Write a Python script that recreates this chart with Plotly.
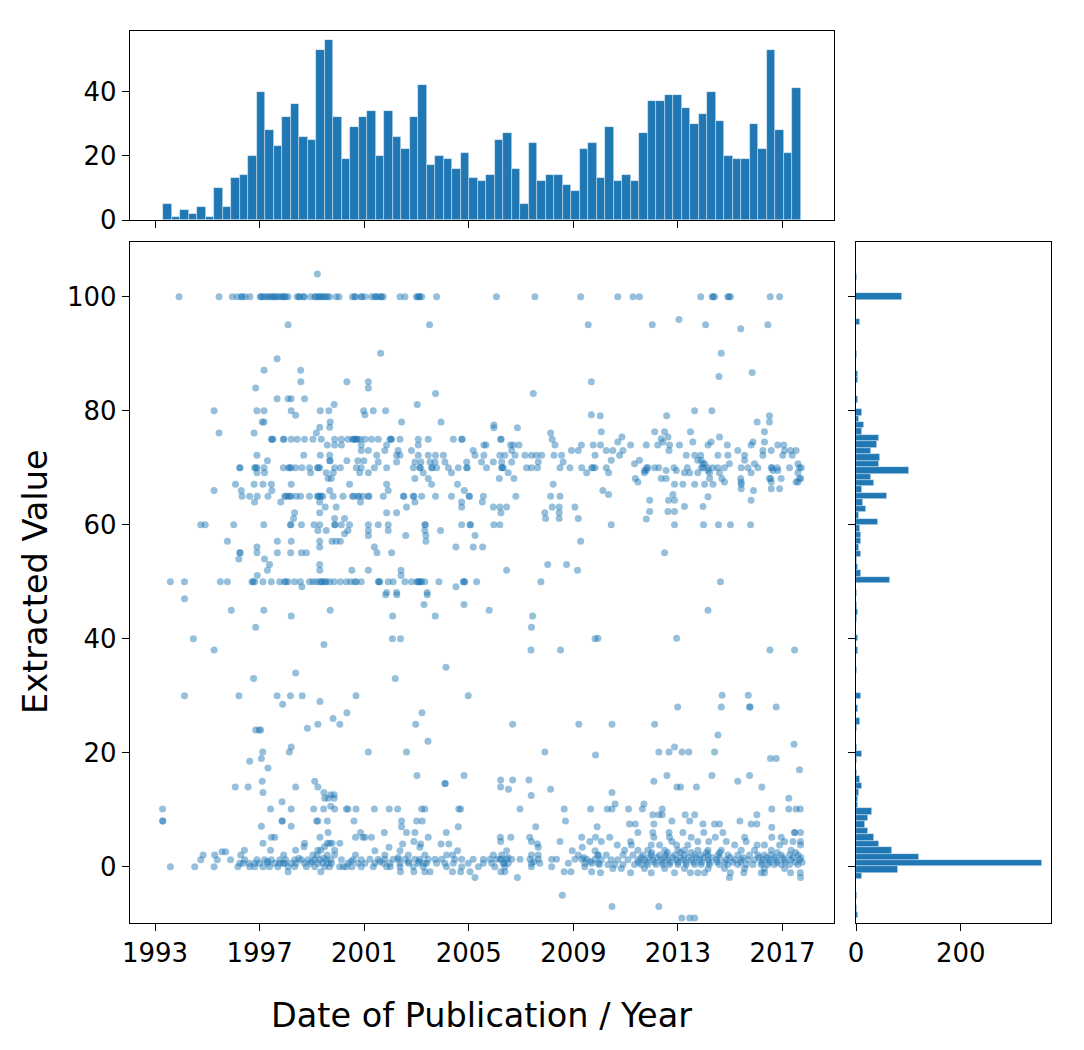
import plotly.graph_objects as go

# ---------------- data ----------------
tick_years = [1993, 1997, 2001, 2005, 2009, 2013, 2017]
value_ticks = [0, 20, 40, 60, 80, 100]
top_hist_ticks = [0, 20, 40]
right_hist_ticks = [0, 200]

# top marginal histogram (publication year), 75 bins
top_bin_start = 1993.32
top_bin_width = 0.3251
top_counts = [5, 1, 3, 2, 4, 1, 10, 4, 13, 14,
              20, 40, 28, 23, 32, 36, 26, 25, 53, 56,
              32, 19, 29, 32, 34, 20, 34, 26, 22, 32,
              42, 17, 20, 19, 16, 21, 13, 12, 14, 25,
              27, 16, 5, 24, 12, 14, 14, 11, 9, 22,
              24, 13, 29, 12, 14, 12, 27, 37, 37, 39,
              39, 35, 30, 33, 40, 31, 20, 19, 19, 30,
              22, 53, 28, 21, 41]

# right marginal histogram (extracted value), 100 bins
right_bin_start = -9.0
right_bin_width = 1.13
right_counts = [3, 2, 0, 1, 0, 0, 11, 81, 355, 120,
                69, 43, 34, 23, 18, 22, 30, 3, 4, 6,
                11, 8, 2, 0, 2, 11, 2, 0, 0, 2,
                8, 0, 4, 0, 9, 0, 0, 0, 1, 0,
                0, 4, 0, 4, 0, 0, 2, 4, 1, 0,
                2, 0, 65, 9, 3, 1, 10, 6, 10, 9,
                8, 42, 6, 19, 14, 59, 12, 34, 28, 102,
                43, 46, 28, 40, 44, 11, 15, 5, 11, 0,
                3, 0, 0, 3, 3, 0, 0, 2, 0, 0,
                0, 0, 8, 0, 0, 0, 87, 0, 0, 1]

# scatter points: (extracted value, [publication years])
pts_early_high = [
    (104.0, [1999.21]),
    (100.0, [1993.92, 1995.45, 1995.96, 1996.15, 1996.30, 1996.34, 1996.45, 1996.63, 1997.03, 1997.05,
             1997.13, 1997.20, 1997.30, 1997.35, 1997.45, 1997.50, 1997.58, 1997.60, 1997.70, 1997.77,
             1997.86, 1997.90, 1997.96, 1998.00, 1998.09, 1998.44, 1998.50, 1998.54, 1998.69, 1998.70,
             1998.95, 1999.11, 1999.15, 1999.23, 1999.30, 1999.32, 1999.42, 1999.45, 1999.53, 1999.60,
             1999.68, 1999.93, 2000.04, 2000.55, 2000.64, 2000.66, 2000.89, 2000.90]),
    (95.1, [1998.09]),
    (89.1, [1997.67]),
    (87.1, [1997.17, 1998.57]),
    (85.1, [1998.58, 2000.34]),
    (84.0, [1996.85]),
    (82.1, [1997.67, 1998.09, 1998.21, 1998.72]),
    (81.1, [1999.85]),
    (80.0, [1995.26, 1996.90, 1997.17, 1998.21, 1999.32, 1999.65, 2000.98]),
    (79.2, [1998.38]),
    (78.0, [1997.10, 1997.17, 1999.70]),
    (77.1, [1999.30, 1999.68]),
    (76.1, [1995.45, 1996.79, 1999.17]),
    (75.0, [1997.45, 1997.48, 1997.51, 1997.91, 1997.93, 1998.21, 1998.44, 1998.72, 1999.04, 1999.36,
            1999.87, 2000.13, 2000.38, 2000.55, 2000.60, 2000.64, 2000.70, 2000.74, 2000.85]),
    (74.0, [1999.59, 1999.87, 2000.13, 2000.89]),
    (73.0, [2000.89]),
    (72.2, [1996.90, 1998.69, 1999.32, 1999.68]),
    (71.2, [1997.30, 1999.68, 1999.70, 2000.34, 2000.76, 2000.99]),
    (70.0, [1996.24, 1996.25, 1996.81, 1996.85, 1996.90, 1997.17, 1997.91, 1998.11, 1998.15, 1998.21,
            1998.38, 1998.62, 1998.91, 1999.21, 1999.25, 1999.30, 1999.87, 2000.09, 2000.70, 2000.89]),
    (69.1, [1996.90, 1997.19, 1998.95, 1999.55, 1999.82, 2000.83]),
    (68.1, [1999.62, 1999.74]),
    (67.1, [1996.08, 1996.79, 1997.13, 1997.45, 1998.21, 2000.44]),
    (66.0, [1995.26, 1996.30, 1997.47, 1999.68]),
    (65.0, [1996.33, 1996.62, 1996.91, 1997.32, 1997.96, 1998.00, 1998.09, 1998.15, 1998.21, 1998.40,
            1998.57, 1998.91, 1999.21, 1999.25, 1999.30, 1999.35, 1999.42, 1999.81, 2000.19, 2000.55,
            2000.60, 2000.76, 2000.80, 2000.95]),
    (64.0, [1996.81, 1997.81, 1999.30, 2000.86]),
    (63.1, [1999.51, 1999.93]),
    (62.1, [1998.34, 1999.30]),
    (61.1, [1998.30, 1999.87, 2000.25]),
    (60.0, [1994.75, 1994.92, 1996.01, 1997.16, 1998.18, 1998.20, 1998.60, 1999.08, 1999.30, 1999.87,
            1999.89, 2000.13, 2000.44]),
    (59.0, [1999.23, 1999.55, 2000.38]),
    (58.4, [2000.25]),
    (57.1, [1995.77, 1997.68, 1998.21, 1999.30, 1999.77, 1999.93, 2000.09]),
    (56.1, [1996.90, 1999.30]),
    (55.1, [1996.24, 1996.26, 1996.90, 1997.68, 1998.19, 1998.60, 1998.79]),
    (54.0, [1996.21, 1997.19]),
    (53.0, [1997.38, 1999.30]),
    (52.0, [1997.30, 1999.30, 2000.53]),
    (51.1, [1996.91]),
    (50.0, [1993.59, 1994.13, 1995.50, 1995.77, 1996.71, 1996.75, 1996.81, 1997.13, 1997.45, 1997.77,
            1997.96, 1998.00, 1998.09, 1998.34, 1998.56, 1998.91, 1999.04, 1999.17, 1999.30, 1999.35,
            1999.42, 1999.50, 1999.55, 1999.68, 1999.85, 2000.09, 2000.32, 2000.48, 2000.64, 2000.70,
            2000.89]),
    (49.1, [1998.62]),
]

pts_mid_high = [
    (100.0, [2001.03, 2001.28, 2001.41, 2001.45, 2001.51, 2001.64, 2001.66, 2001.73, 2002.37, 2002.56,
             2003.00, 2003.05, 2003.10, 2003.12, 2003.20, 2003.77, 2006.06, 2007.53, 2009.28]),
    (95.1, [2003.50, 2009.57]),
    (90.1, [2001.63]),
    (85.1, [2001.16, 2009.69]),
    (84.0, [2001.16]),
    (83.0, [2003.73, 2007.47]),
    (81.1, [2003.03]),
    (80.0, [2001.35, 2001.82]),
    (79.3, [2001.03, 2009.69]),
    (78.0, [2002.43, 2003.94]),
    (77.5, [2005.96]),
    (77.0, [2005.96, 2006.86]),
    (76.1, [2008.13]),
    (75.0, [2001.03, 2001.28, 2001.54, 2001.99, 2002.02, 2002.05, 2002.37, 2003.07, 2003.45, 2004.41,
            2004.73, 2004.75, 2006.22, 2006.24, 2008.19]),
    (74.0, [2001.86, 2003.07, 2005.58, 2005.66, 2006.60, 2006.70, 2006.92, 2008.30, 2009.31, 2009.76]),
    (73.0, [2001.16, 2001.79, 2002.30, 2002.81, 2005.17, 2006.64, 2008.93, 2009.19]),
    (72.2, [2001.48, 2002.24, 2002.37, 2003.07, 2003.45, 2003.73, 2004.03, 2005.24, 2005.58, 2006.19,
            2006.38, 2006.77, 2007.15, 2007.40, 2007.59, 2007.79, 2008.26, 2008.55, 2009.83]),
    (71.0, [2001.54, 2002.24, 2002.94, 2003.17, 2003.52, 2003.71, 2004.09, 2004.92, 2005.49, 2005.94,
            2006.26, 2006.64, 2007.66, 2008.61]),
    (70.0, [2001.39, 2001.86, 2002.88, 2003.13, 2003.15, 2003.58, 2003.60, 2003.77, 2004.22, 2004.60,
            2004.92, 2004.94, 2005.68, 2006.26, 2006.28, 2006.32, 2007.21, 2007.40, 2007.63, 2008.49,
            2008.87, 2009.32, 2009.70, 2009.75, 2009.83]),
    (69.1, [2001.16, 2003.26, 2004.34, 2006.51, 2009.51]),
    (68.1, [2002.94, 2003.45, 2006.17, 2006.73]),
    (67.1, [2001.86, 2003.58, 2004.57, 2008.23]),
    (66.0, [2001.92, 2004.83]),
    (65.0, [2001.16, 2001.18, 2001.73, 2002.50, 2002.52, 2002.88, 2002.90, 2003.20, 2003.73, 2004.34,
            2005.01, 2005.03, 2005.56, 2006.80, 2008.13, 2008.49]),
    (64.0, [2002.94, 2004.73, 2005.52]),
    (63.1, [2002.62, 2004.73, 2005.94, 2006.19, 2006.45, 2008.19, 2008.46, 2009.06]),
    (62.1, [2001.86, 2002.24, 2006.23, 2007.91, 2008.46]),
    (61.1, [2007.94, 2008.46, 2009.19]),
    (60.0, [2001.16, 2001.54, 2001.92, 2003.32, 2003.34, 2004.73, 2005.05, 2005.07, 2005.96, 2006.19]),
    (59.0, [2001.16, 2001.92, 2003.32, 2003.92]),
    (58.1, [2001.16, 2002.59, 2003.36, 2005.24]),
    (57.1, [2003.36, 2009.28]),
    (56.1, [2001.39, 2004.51, 2005.17, 2005.53]),
    (55.1, [2001.49, 2002.05]),
    (53.0, [2008.02, 2008.74]),
    (52.0, [2001.16, 2002.41, 2006.45, 2009.16]),
    (51.1, [2002.41]),
    (50.0, [2001.54, 2001.57, 2001.60, 2001.92, 2002.11, 2002.56, 2002.81, 2003.01, 2003.07, 2003.10,
            2003.15, 2003.20, 2003.32, 2003.86, 2004.79, 2004.82, 2004.85, 2005.30, 2007.76]),
    (49.1, [2004.51]),
    (48.1, [2001.86, 2002.24, 2003.41]),
]

pts_late_high = [
    (100.0, [2010.70, 2011.28, 2011.53, 2013.87, 2014.31, 2014.35, 2014.40, 2014.91, 2014.95, 2015.01,
             2016.53, 2016.89]),
    (96.0, [2013.04]),
    (95.1, [2012.02, 2014.06, 2016.44]),
    (94.4, [2015.40]),
    (90.1, [2014.66]),
    (86.7, [2015.84]),
    (86.0, [2014.57]),
    (80.0, [2013.64, 2014.30]),
    (79.1, [2010.03, 2012.57, 2016.50]),
    (78.0, [2016.03, 2016.50]),
    (76.3, [2010.07, 2012.11, 2012.49, 2013.48, 2016.31]),
    (75.4, [2010.86, 2012.62, 2014.59]),
    (75.1, [2012.36]),
    (74.5, [2010.70, 2012.43, 2013.57, 2014.27, 2015.87, 2016.31]),
    (74.0, [2010.04, 2011.19, 2011.79, 2012.23, 2012.68, 2013.06, 2014.15, 2014.89, 2015.80, 2016.82,
            2017.05]),
    (73.0, [2010.26, 2010.51, 2010.90, 2012.66, 2015.29, 2016.25, 2016.57, 2017.08, 2017.31, 2017.52]),
    (72.2, [2010.77, 2013.32, 2013.64, 2013.87, 2014.53, 2014.91, 2015.55, 2016.25, 2017.01, 2017.37]),
    (71.3, [2010.45, 2011.53, 2013.76, 2013.89, 2015.55]),
    (70.7, [2011.34, 2013.96, 2014.02, 2014.97, 2015.93, 2017.59]),
    (70.0, [2010.26, 2011.80, 2011.85, 2012.11, 2012.27, 2012.85, 2013.36, 2013.90, 2013.96, 2014.15,
            2014.34, 2014.53, 2014.78, 2015.42, 2015.68, 2016.06, 2016.57, 2016.60, 2016.80, 2017.27,
            2017.65, 2017.72]),
    (69.5, [2011.72, 2011.79, 2012.55, 2012.94, 2014.15, 2016.63, 2016.82]),
    (69.1, [2010.35, 2011.72, 2013.25, 2013.45, 2013.76, 2014.21, 2014.59, 2015.80, 2017.59]),
    (68.1, [2011.37, 2012.36, 2012.55, 2014.21, 2014.68, 2015.40, 2016.50, 2016.55, 2016.95, 2017.65,
            2017.70]),
    (67.5, [2011.47, 2014.78, 2015.42, 2016.57, 2017.52, 2017.59]),
    (67.1, [2012.87, 2013.19, 2013.64, 2014.02, 2014.34, 2015.42]),
    (66.3, [2015.42, 2016.57, 2016.89]),
    (66.0, [2010.13, 2015.89]),
    (65.3, [2010.35, 2012.81]),
    (64.9, [2014.15]),
    (64.3, [2011.92, 2012.64, 2012.87, 2015.80]),
    (63.2, [2013.25, 2013.96]),
    (62.3, [2011.92, 2012.62, 2012.87]),
    (61.0, [2011.79]),
    (60.0, [2010.45, 2012.87, 2013.98, 2014.55, 2015.01, 2015.78]),
    (55.1, [2012.49]),
    (50.0, [2014.63]),
]

pts_early_low = [
    (47.0, [1994.13]),
    (45.0, [1995.92, 1997.16, 1999.70]),
    (44.0, [1998.21]),
    (42.0, [1996.85]),
    (40.0, [1994.47]),
    (39.0, [1999.46]),
    (38.0, [1995.26]),
    (34.0, [1998.38]),
    (33.0, [1996.77]),
    (30.0, [1994.13, 1996.21, 1997.67, 1998.18, 1998.63, 2000.69]),
    (29.0, [1999.31]),
    (28.5, [1997.88]),
    (27.0, [2000.34]),
    (26.0, [1999.81]),
    (25.0, [1999.23, 2000.07]),
    (24.3, [1998.83]),
    (24.0, [1996.85, 1996.98, 1997.04]),
    (21.0, [1998.21]),
    (20.1, [1997.12, 1998.14]),
    (19.0, [1997.07]),
    (18.5, [1996.62]),
    (17.3, [1997.32]),
    (15.0, [1997.10, 1999.11]),
    (14.0, [1996.07, 1996.56, 1998.38, 1999.23]),
    (13.0, [1997.13, 1999.46]),
    (12.6, [1999.72, 1999.85]),
    (12.0, [1999.49, 1999.62, 1999.85]),
    (11.4, [1997.86]),
    (10.6, [1999.72]),
    (10.1, [1993.29, 1997.42, 1998.21, 1999.07, 1999.45, 1999.87, 2000.32, 2000.38, 2000.69]),
    (8.0, [1993.29, 1993.30, 1997.86, 1997.87, 1999.18, 1999.23, 1999.59, 2000.61]),
    (7.1, [1997.07, 1998.21]),
    (6.0, [1999.62, 2000.86]),
    (5.15, [1997.45, 1997.58, 1999.31, 2000.67, 2000.95]),
    (4.1, [1997.13, 1998.72, 1999.59, 1999.68, 1999.77, 2000.07]),
    (3.5, [1998.70, 1999.49]),
    (2.9, [1996.42, 1997.42, 1998.38, 1999.23, 1999.34, 1999.87]),
    (2.6, [1995.56, 1995.70]),
    (2.05, [1994.84, 1995.28, 1996.28, 1997.92, 1999.04, 1999.20, 1999.59, 1999.87, 2000.67]),
    (1.5, [1998.50, 1999.45]),
    (1.2, [1994.75, 1995.38, 1995.89, 1996.43, 1996.90, 1997.19, 1997.45, 1997.77, 1998.00, 1998.34,
           1998.60, 1998.85, 1999.11, 1999.30, 1999.55, 1999.72, 2000.13, 2000.57, 2000.89]),
    (0.9, [1997.30, 1999.00, 2000.50]),
    (0.6, [1996.24, 1996.37, 1996.60, 1996.81, 1997.00, 1997.32, 1997.58, 1997.77, 1997.90, 1997.96,
           1998.21, 1998.40, 1998.72, 1998.95, 1999.23, 1999.42, 1999.62, 1999.75, 2000.38, 2000.76]),
    (0.0, [1993.59, 1994.52, 1995.26, 1996.17, 1996.62, 1996.81, 1997.13, 1997.38, 1997.70, 1998.09,
           1998.34, 1998.79, 1999.11, 1999.49, 1999.68, 2000.06, 2000.20, 2000.32, 2000.53, 2000.89]),
    (-0.9, [1998.09, 1999.34]),
]

pts_mid_low = [
    (47.7, [2001.82, 2002.25, 2003.41]),
    (46.0, [2003.29, 2004.82]),
    (45.0, [2005.78]),
    (44.0, [2002.09, 2003.72, 2007.44]),
    (42.0, [2007.40]),
    (40.0, [2002.08, 2002.39, 2009.83]),
    (38.0, [2007.38, 2008.51]),
    (35.0, [2004.13]),
    (33.0, [2002.19]),
    (30.0, [2004.98]),
    (27.0, [2003.21]),
    (25.0, [2002.97, 2006.68, 2009.21]),
    (22.0, [2003.44]),
    (20.1, [2001.16, 2002.62, 2007.91]),
    (19.6, [2009.85]),
    (16.0, [2003.02, 2004.82]),
    (15.2, [2006.22, 2006.68, 2007.30]),
    (14.6, [2004.09, 2004.10]),
    (14.0, [2006.22]),
    (13.6, [2006.52, 2008.13]),
    (12.5, [2007.39]),
    (10.1, [2001.39, 2001.96, 2002.28, 2003.20, 2003.32, 2004.62, 2004.69, 2006.96, 2008.65, 2009.66]),
    (8.0, [2002.43, 2003.01, 2003.22, 2008.70]),
    (7.0, [2002.43, 2004.60, 2007.56, 2009.91]),
    (6.0, [2001.77, 2002.62, 2002.94, 2004.14]),
    (5.15, [2001.03, 2001.28, 2003.45, 2006.21, 2006.61, 2007.33, 2009.32, 2009.85]),
    (4.4, [2002.90, 2006.22, 2007.40, 2008.49, 2009.63]),
    (4.0, [2002.47, 2003.16, 2003.94, 2004.24, 2007.63]),
    (3.4, [2001.95, 2003.13, 2007.66, 2009.34]),
    (2.8, [2001.41, 2002.37, 2004.57, 2006.45, 2008.96, 2009.83]),
    (2.05, [2001.79, 2002.69, 2003.32, 2004.15, 2004.38, 2005.94, 2006.26, 2007.40, 2007.66, 2009.19,
            2009.95]),
    (1.6, [2002.30, 2006.50, 2009.40]),
    (1.3, [2001.22, 2001.54, 2001.79, 2002.11, 2002.30, 2002.56, 2002.94, 2003.13, 2003.45, 2003.71,
           2003.96, 2004.47, 2004.73, 2005.17, 2005.56, 2005.81, 2006.06, 2006.20, 2006.26, 2006.45,
           2006.64, 2006.96, 2007.34, 2007.66, 2008.17, 2008.36, 2009.06, 2009.32, 2009.51, 2009.83]),
    (0.9, [2001.60, 2002.70, 2003.10, 2007.50, 2009.65]),
    (0.6, [2001.03, 2001.41, 2001.73, 2001.99, 2002.37, 2002.69, 2003.07, 2003.30, 2003.39, 2003.77,
           2004.09, 2004.41, 2004.98, 2005.56, 2005.88, 2006.32, 2006.35, 2006.51, 2007.40, 2007.72,
           2008.81, 2009.44, 2009.70, 2009.95]),
    (0.0, [2001.35, 2001.86, 2002.00, 2002.37, 2002.88, 2003.26, 2004.15, 2004.73, 2005.37, 2006.00,
           2006.38, 2007.40, 2008.17, 2009.44]),
    (-0.9, [2002.39, 2002.90, 2003.32, 2003.52, 2004.38, 2004.69, 2005.05, 2006.23, 2006.38, 2008.65,
            2008.91, 2009.70]),
    (-1.9, [2005.24, 2006.86]),
    (-5.0, [2008.58]),
]

pts_late_low = [
    (45.0, [2014.15]),
    (40.1, [2009.94, 2012.95]),
    (38.0, [2016.52, 2017.46]),
    (30.1, [2014.69, 2015.69]),
    (28.0, [2012.99, 2014.66, 2015.74, 2015.76, 2016.76]),
    (25.0, [2010.48, 2012.11]),
    (23.1, [2014.53]),
    (21.5, [2017.44]),
    (21.0, [2012.87]),
    (20.1, [2012.27, 2012.66, 2013.16, 2013.42, 2014.40]),
    (19.0, [2016.54, 2016.76]),
    (17.0, [2017.65]),
    (16.0, [2012.58, 2014.30, 2015.74]),
    (15.0, [2012.08, 2015.29]),
    (14.0, [2012.96, 2013.10, 2013.71, 2016.21]),
    (13.0, [2010.48]),
    (12.0, [2017.24]),
    (11.0, [2010.60, 2011.70]),
    (10.1, [2010.30, 2010.48, 2011.11, 2011.64, 2012.40, 2016.59, 2017.24, 2017.52, 2017.68]),
    (9.1, [2012.04, 2012.27, 2012.40, 2013.28, 2013.64, 2016.02]),
    (8.0, [2012.77, 2013.45, 2015.37]),
    (7.5, [2011.15, 2011.37, 2012.08, 2013.96, 2014.40, 2014.59, 2015.80, 2016.02]),
    (6.9, [2016.59]),
    (6.0, [2011.47, 2012.04, 2012.66, 2013.19, 2013.99, 2014.72, 2017.46, 2017.47, 2017.69]),
    (5.15, [2010.39, 2012.08, 2012.68, 2013.51, 2014.43, 2015.55, 2016.59, 2016.95]),
    (4.4, [2010.07, 2011.19, 2012.77, 2013.76, 2014.18, 2014.85, 2015.61, 2017.08, 2017.40, 2017.69]),
    (3.8, [2010.68, 2011.22, 2011.98, 2012.30, 2012.95, 2013.38, 2015.17, 2016.03, 2016.31, 2016.89,
           2017.69]),
    (2.9, [2010.96, 2011.47, 2011.85, 2012.49, 2013.00, 2013.25, 2013.76, 2014.15, 2014.66, 2015.42,
           2015.93, 2016.57, 2017.33]),
    (2.5, [2012.00, 2012.60, 2013.10, 2013.50, 2014.10, 2014.60, 2016.80, 2017.50]),
    (2.05, [2009.94, 2010.26, 2010.90, 2011.28, 2011.66, 2011.98, 2012.30, 2012.55, 2012.87, 2013.25,
            2013.64, 2013.89, 2014.15, 2014.53, 2014.91, 2015.29, 2015.74, 2016.06, 2016.31, 2016.57,
            2016.95, 2017.27, 2017.59]),
    (1.6, [2011.60, 2011.90, 2012.20, 2012.50, 2012.80, 2013.10, 2013.40, 2013.70, 2014.00, 2014.30,
           2014.60, 2015.00, 2015.50, 2016.10, 2016.40, 2016.70, 2017.00, 2017.40, 2017.70]),
    (1.2, [2010.07, 2010.45, 2010.70, 2011.09, 2011.47, 2011.72, 2012.04, 2012.36, 2012.62, 2012.94,
           2013.19, 2013.51, 2013.83, 2014.15, 2014.47, 2014.85, 2015.17, 2015.42, 2015.68, 2015.93,
           2016.25, 2016.50, 2016.76, 2017.08, 2017.33, 2017.65]),
    (0.8, [2011.50, 2011.80, 2012.10, 2012.40, 2012.70, 2013.00, 2013.30, 2013.60, 2013.90, 2014.20,
           2014.50, 2014.80, 2015.10, 2015.40, 2016.20, 2016.50, 2016.80, 2017.10, 2017.50, 2017.75]),
    (0.4, [2010.00, 2010.32, 2010.58, 2010.90, 2011.34, 2011.60, 2011.85, 2012.17, 2012.43, 2012.68,
           2013.00, 2013.32, 2013.64, 2013.89, 2014.21, 2014.59, 2014.91, 2015.29, 2015.61, 2015.87,
           2016.19, 2016.44, 2016.69, 2016.95, 2017.27, 2017.59]),
    (-0.3, [2010.51, 2010.83, 2011.72, 2012.49, 2013.25, 2014.15, 2014.78, 2015.55, 2016.31, 2017.08]),
    (-1.05, [2010.04, 2011.19, 2011.98, 2012.87, 2013.48, 2013.76, 2014.02, 2015.01, 2015.52, 2016.19,
             2016.31, 2017.31, 2017.68]),
    (-1.9, [2014.97, 2017.69]),
    (-7.0, [2010.48, 2012.27]),
    (-9.0, [2013.15, 2013.45, 2013.64]),
]

# ---------------- figure ----------------
BLUE = "#1f77b4"
FONT = "DejaVu Sans"
W, H = 1084, 1050

scatter_x, scatter_y = [], []
for group in (pts_early_high, pts_mid_high, pts_late_high, pts_early_low, pts_mid_low, pts_late_low):
    for val, years in group:
        for yr in years:
            scatter_x.append(yr)
            scatter_y.append(val)

top_centers = [top_bin_start + (i + 0.5) * top_bin_width for i in range(len(top_counts))]
right_centers = [right_bin_start + (i + 0.5) * right_bin_width for i in range(len(right_counts))]

fig = go.Figure()
fig.add_trace(go.Scatter(
    x=scatter_x, y=scatter_y, mode="markers", xaxis="x", yaxis="y",
    marker=dict(size=7, color=BLUE, opacity=0.47, line=dict(width=0)),
    showlegend=False, hoverinfo="skip"))
fig.add_trace(go.Bar(
    x=top_centers, y=top_counts, width=top_bin_width, xaxis="x2", yaxis="y2",
    marker=dict(color=BLUE, line=dict(color="rgba(255,255,255,0.55)", width=0.7)),
    showlegend=False, hoverinfo="skip"))
fig.add_trace(go.Bar(
    y=right_centers, x=right_counts, width=right_bin_width, orientation="h",
    xaxis="x3", yaxis="y3",
    marker=dict(color=BLUE, line=dict(color="rgba(255,255,255,0.55)", width=0.7)),
    showlegend=False, hoverinfo="skip"))


def px_x(p):
    return p / W


def px_y(p):
    return 1 - p / H


axis_common = dict(
    showline=True, linecolor="black", linewidth=1.3, mirror=True,
    ticks="outside", ticklen=7, tickwidth=1.3, tickcolor="black",
    showgrid=False, zeroline=False, automargin=False,
    tickfont=dict(family=FONT, size=26, color="black"),
)

main_x_dom = [px_x(130), px_x(834)]
main_y_dom = [px_y(923), px_y(242)]
x_range = [1992.044, 2018.97]
y_range = [-9.88, 109.6]

fig.update_layout(
    width=W, height=H,
    margin=dict(l=0, r=0, t=0, b=0),
    paper_bgcolor="white", plot_bgcolor="white",
    bargap=0,
    xaxis=dict(domain=main_x_dom, range=x_range, anchor="y",
               tickmode="array", tickvals=tick_years, ticktext=[str(t) for t in tick_years],
               **axis_common),
    yaxis=dict(domain=main_y_dom, range=y_range, anchor="x",
               tickmode="array", tickvals=value_ticks, **axis_common),
    xaxis2=dict(domain=main_x_dom, range=x_range, anchor="y2",
                tickmode="array", tickvals=tick_years, showticklabels=False, **axis_common),
    yaxis2=dict(domain=[px_y(220), px_y(31)], range=[0, 58.9], anchor="x2",
                tickmode="array", tickvals=top_hist_ticks, **axis_common),
    xaxis3=dict(domain=[px_x(856), px_x(1051)], range=[0, 372.5], anchor="y3",
                tickmode="array", tickvals=right_hist_ticks, **axis_common),
    yaxis3=dict(domain=main_y_dom, range=y_range, anchor="x3",
                tickmode="array", tickvals=value_ticks, showticklabels=False, **axis_common),
    annotations=[
        dict(text="Date of Publication / Year", xref="paper", yref="paper",
             x=px_x(482), y=px_y(1015), showarrow=False,
             xanchor="center", yanchor="middle",
             font=dict(family=FONT, size=33.5, color="black")),
        dict(text="Extracted Value", xref="paper", yref="paper",
             x=px_x(35), y=px_y(582), showarrow=False, textangle=-90,
             xanchor="center", yanchor="middle",
             font=dict(family=FONT, size=33.5, color="black")),
    ],
)

fig.write_html("out.html")
